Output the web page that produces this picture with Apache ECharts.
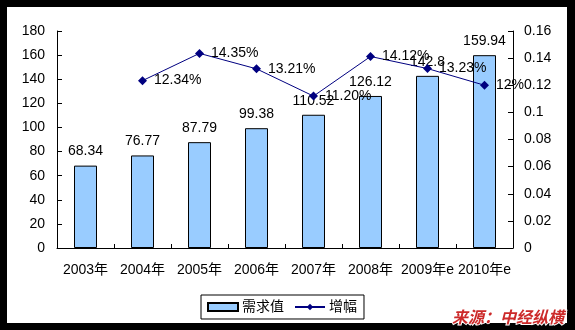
<!DOCTYPE html>
<html>
<head>
<meta charset="utf-8">
<script src="https://cdn.jsdelivr.net/npm/echarts@6/dist/echarts.min.js"></script>
<style>
  html, body { margin: 0; padding: 0; background: #000; }
  #chart { width: 575px; height: 330px; }
</style>
</head>
<body>
<div id="chart"></div>
<script>
// Demand values and year-on-year growth
const years = ['2003年', '2004年', '2005年', '2006年', '2007年', '2008年', '2009年e', '2010年e'];
const demand = [68.34, 76.77, 87.79, 99.38, 110.52, 126.12, 142.8, 159.94];
const growth = [null, 0.1234, 0.1435, 0.1321, 0.1120, 0.1412, 0.1323, 0.12];

const FONT = '"Liberation Sans", Arial, "Noto Sans CJK SC", sans-serif';
const textBase = { color: '#000', fontFamily: FONT, fontSize: 14 };

function pct(v) {
  const p = v * 100;
  return (Math.abs(p - Math.round(p)) < 1e-9 ? String(Math.round(p)) : p.toFixed(2)) + '%';
}

const chart = echarts.init(document.getElementById('chart'), null, { renderer: 'canvas' });
chart.setOption({
  animation: false,
  backgroundColor: 'transparent',
  textStyle: textBase,
  graphic: [
    { type: 'rect', z: -100, shape: { x: 7, y: 7, width: 560, height: 316 }, style: { fill: '#fff' } },
    {
      type: 'text', z: 100, left: 451, top: 308,
      style: {
        text: '来源：中经纵横',
        fill: '#CC2A2A',
        stroke: '#fff', lineWidth: 2,
        font: 'italic bold 16px "Noto Sans CJK SC", sans-serif'
      }
    }
  ],
  grid: { left: 57, right: 62, top: 31, bottom: 82, containLabel: false, outerBoundsMode: 'none' },
  legend: {
    left: 201, top: 295,
    padding: [5, 7, 5, 6],
    itemGap: 10,
    itemWidth: 30, itemHeight: 8,
    borderColor: '#000', borderWidth: 1,
    backgroundColor: '#fff',
    textStyle: { color: '#000', fontFamily: FONT, fontSize: 14, padding: [0, 0, 0, -1] },
    data: [{ name: '需求值', icon: 'rect' }, { name: '增幅' }]
  },
  xAxis: {
    type: 'category',
    data: years,
    boundaryGap: true,
    axisLine: { lineStyle: { color: '#000', width: 1 } },
    axisTick: { show: true, inside: true, length: 4, lineStyle: { color: '#000' } },
    axisLabel: { margin: 15, color: '#000', fontFamily: FONT, fontSize: 14, interval: 0 }
  },
  yAxis: [
    {
      type: 'value', min: 0, max: 180, interval: 20,
      axisLine: { show: true, lineStyle: { color: '#000' } },
      axisTick: { show: true, inside: true, length: 5, lineStyle: { color: '#000' } },
      splitLine: { show: false },
      axisLabel: { margin: 12, color: '#000', fontFamily: FONT, fontSize: 14 }
    },
    {
      type: 'value', min: 0, max: 0.16, interval: 0.02,
      axisLine: { show: true, lineStyle: { color: '#000' } },
      axisTick: { show: true, inside: true, length: 5, lineStyle: { color: '#000' } },
      splitLine: { show: false },
      axisLabel: {
        margin: 11, color: '#000', fontFamily: FONT, fontSize: 14,
        formatter: v => String(parseFloat(v.toFixed(2)))
      }
    }
  ],
  series: [
    {
      name: '需求值',
      type: 'bar',
      data: demand,
      barWidth: 23,
      itemStyle: { color: '#99CCFF', borderColor: '#000', borderWidth: 1 },
      label: { show: true, position: 'top', distance: 7, color: '#000', fontFamily: FONT, fontSize: 14 },
      z: 2
    },
    {
      name: '增幅',
      type: 'line',
      yAxisIndex: 1,
      data: growth,
      symbol: 'diamond',
      symbolSize: 9,
      lineStyle: { color: '#000080', width: 1 },
      itemStyle: { color: '#000080' },
      label: {
        show: true, position: 'right', distance: 7,
        color: '#000', fontFamily: FONT, fontSize: 14,
        formatter: p => pct(p.value)
      },
      z: 3
    }
  ]
});
</script>
</body>
</html>
